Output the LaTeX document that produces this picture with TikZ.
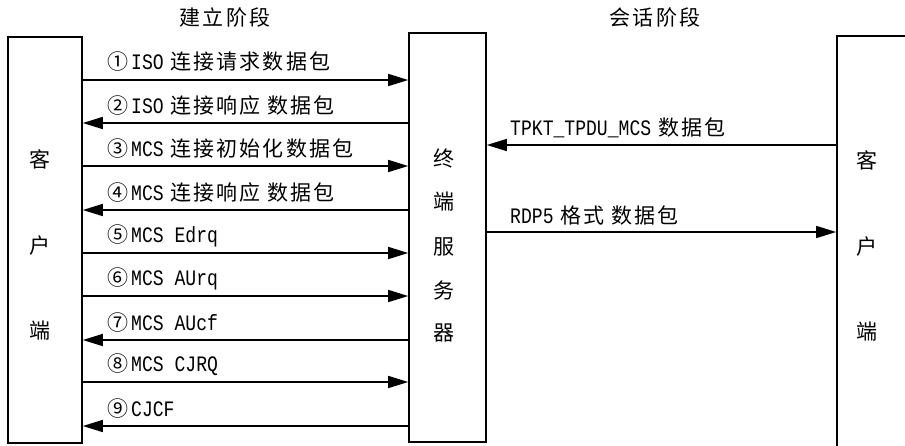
\documentclass[tikz,border=0pt]{standalone}
\usepackage{fontspec}
\setmainfont[LetterSpace=10]{Noto Sans CJK SC}
\newfontfamily\lat[Scale=1.05,FakeStretch=0.82]{Liberation Mono}
\newcommand\lt[1]{\kern3pt{\lat #1}}
\usetikzlibrary{arrows.meta}
\begin{document}
\begin{tikzpicture}[x=1pt,y=-1pt,
  box/.style={draw,line width=1.6pt,inner sep=0pt},
  msg/.style={line width=1.6pt,-{Triangle[length=20pt,width=12pt]}},
  lbl/.style={anchor=west,inner sep=0pt,font=\fontsize{21}{21}\selectfont},
  vch/.style={inner sep=0pt,font=\fontsize{21}{21}\selectfont},
  ttl/.style={inner sep=0pt,font=\fontsize{21}{21}\selectfont}]
\useasboundingbox (0,0) rectangle (905,445);
\clip (0,0) rectangle (905,445);
% boxes
\node[box,minimum width=74pt,minimum height=406pt] (cl) at (45,240) {};
\node[box,minimum width=77pt,minimum height=409pt] (sv) at (447.5,237.5) {};
\node[box,minimum width=103pt,minimum height=434pt] (cr) at (888.5,253) {};
% titles
\node[ttl] (t1) at (225,17) {建立阶段};
\node[ttl] (t2) at (655,17) {会话阶段};
% vertical texts
\node[vch] (c1) at (40,159) {客};
\node[vch] (c2) at (40,246) {户};
\node[vch] (c3) at (40,331) {端};
\node[vch] (s1) at (444,158) {终};
\node[vch] (s2) at (444,202) {端};
\node[vch] (s3) at (444,247) {服};
\node[vch] (s4) at (444,290) {务};
\node[vch] (s5) at (444,333) {器};
\node[vch] (r1) at (867,160) {客};
\node[vch] (r2) at (867,247) {户};
\node[vch] (r3) at (867,332) {端};
% arrow levels
\coordinate (y1) at (0,80);
\coordinate (y2) at (0,123);
\coordinate (y3) at (0,166);
\coordinate (y4) at (0,210);
\coordinate (y5) at (0,253);
\coordinate (y6) at (0,296);
\coordinate (y7) at (0,340);
\coordinate (y8) at (0,382);
\coordinate (y9) at (0,426);
\coordinate (ya) at (0,145);
\coordinate (yb) at (0,232);
% setup phase
\draw[msg] (cl.east |- y1) -- (sv.west |- y1);
\draw[msg] (sv.west |- y2) -- (cl.east |- y2);
\draw[msg] (cl.east |- y3) -- (sv.west |- y3);
\draw[msg] (sv.west |- y4) -- (cl.east |- y4);
\draw[msg] (cl.east |- y5) -- (sv.west |- y5);
\draw[msg] (cl.east |- y6) -- (sv.west |- y6);
\draw[msg] (sv.west |- y7) -- (cl.east |- y7);
\draw[msg] (cl.east |- y8) -- (sv.west |- y8);
\draw[msg] (sv.west |- y9) -- (cl.east |- y9);
% session phase
\draw[msg] (cr.west |- ya) -- (sv.east |- ya);
\draw[msg] (sv.east |- yb) -- (cr.west |- yb);
% labels
\node[lbl] (l1) at (107,62) {①\lt{ISO} 连接请求数据包};
\node[lbl] (l2) at (107,106) {②\lt{ISO} 连接响应 数据包};
\node[lbl] (l3) at (107,149) {③\lt{MCS} 连接初始化数据包};
\node[lbl] (l4) at (107,193) {④\lt{MCS} 连接响应 数据包};
\node[lbl] (l5) at (107,236) {⑤\lt{MCS Edrq}};
\node[lbl] (l6) at (107,279) {⑥\lt{MCS AUrq}};
\node[lbl] (l7) at (107,323) {⑦\lt{MCS AUcf}};
\node[lbl] (l8) at (107,365) {⑧\lt{MCS CJRQ}};
\node[lbl] (l9) at (107,409) {⑨\lt{CJCF}};
\node[lbl] (la) at (507,128) {\lt{TPKT\_TPDU\_MCS} 数据包};
\node[lbl] (lb) at (507,215) {\lt{RDP5} 格式 数据包};
\end{tikzpicture}
\end{document}
